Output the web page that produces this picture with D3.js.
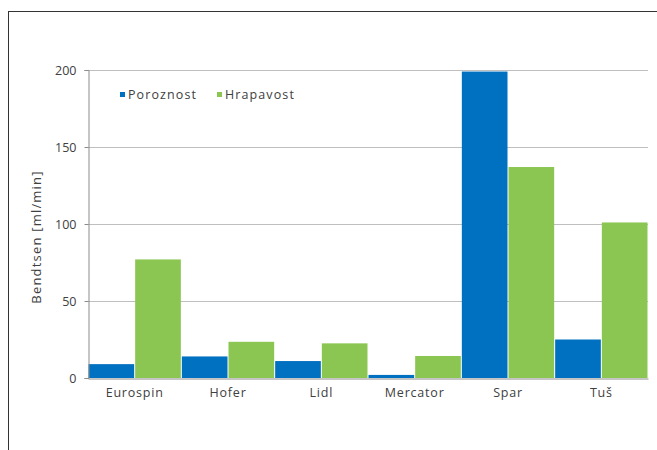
<!DOCTYPE html>
<html><head><meta charset="utf-8">
<script src="https://cdn.jsdelivr.net/npm/d3@7"></script>
<style>body{margin:0;background:#fff}svg{display:block}text{font-family:"Open Sans",sans-serif}</style>
</head><body>
<svg id="c" width="657" height="450"></svg>
<script>
const categories = ["Eurospin","Hofer","Lidl","Mercator","Spar","Tuš"];
const series = ["Poroznost","Hrapavost"];
const poroznost = [9, 14, 11, 2, 199, 25];
const hrapavost = [77, 23.5, 22.5, 14.3, 137, 101];
const yTicks = [0, 50, 100, 150, 200];
const colors = ["#0070c0", "#8bc652"];

const svg = d3.select("#c");
svg.append("rect").attr("x",8.5).attr("y",11.5).attr("width",700).attr("height",500)
  .attr("fill","none").attr("stroke","#333").attr("stroke-width",1);

const m = {l:88, r:648, t:70, b:378};
const x = d3.scaleBand().domain(categories).range([m.l, m.r]).paddingInner(0).paddingOuter(0);
const xs = d3.scaleBand().domain(series).range([0, x.bandwidth()]).padding(0);
const y = d3.scaleLinear().domain([0,200]).range([m.b, m.t]);

// gridlines
svg.append("g").selectAll("line").data(yTicks.filter(d=>d>0)).join("line")
  .attr("x1",m.l).attr("x2",m.r).attr("y1",d=>y(d)+0.5).attr("y2",d=>y(d)+0.5)
  .attr("stroke","#bfbfbf").attr("stroke-width",1);

const data = categories.map((c,i)=>({c, v:[poroznost[i], hrapavost[i]]}));
const g = svg.append("g");
data.forEach(d=>{
  series.forEach((s,j)=>{
    g.append("rect")
      .attr("x", x(d.c)+xs(s)+0.5)
      .attr("width", xs.bandwidth()-1)
      .attr("y", y(d.v[j]))
      .attr("height", y(0)-y(d.v[j]))
      .attr("fill", colors[j]);
  });
});

// y axis
const ya = svg.append("g").attr("transform",`translate(${m.l+0.5},0)`)
  .call(d3.axisLeft(y).tickValues(yTicks).tickSize(4).tickPadding(8));
ya.selectAll("path,line").attr("stroke","#8c8c8c");
ya.selectAll("text").attr("fill","#404040").style("font-size","12.5px");
// x axis
const xa = svg.append("g").attr("transform",`translate(0,${m.b+0.5})`)
  .call(d3.axisBottom(x).tickSize(0).tickPadding(10));
xa.select("path").attr("stroke","#8c8c8c");
xa.selectAll("text").attr("fill","#404040").style("font-size","12.5px").style("letter-spacing","0.8px");

svg.append("text").attr("transform",`translate(41,237) rotate(-90)`)
  .attr("text-anchor","middle").attr("fill","#404040").style("font-size","13px").style("letter-spacing","1.2px")
  .text("Bendtsen [ml/min]");

// legend
const lx = [120, 217];
series.forEach((s,j)=>{
  svg.append("rect").attr("x",lx[j]).attr("y",92).attr("width",5).attr("height",5).attr("fill",colors[j]);
  svg.append("text").attr("x",lx[j]+8).attr("y",99).attr("fill","#404040").style("font-size","12.5px").style("letter-spacing","1.1px").text(s);
});
</script>
</body></html>
